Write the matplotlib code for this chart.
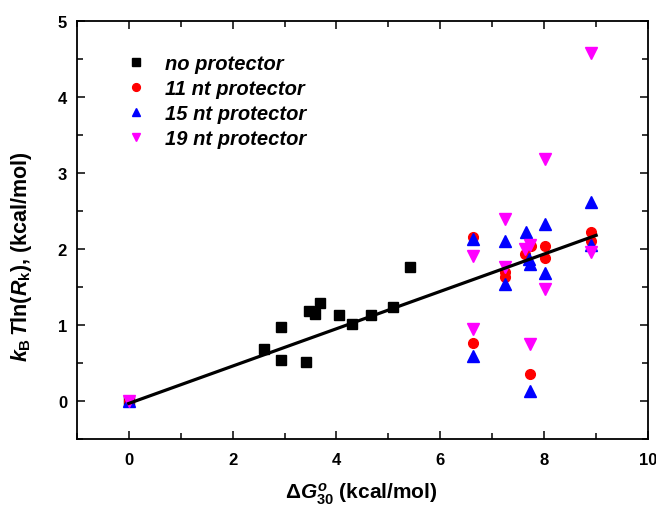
import matplotlib
matplotlib.use('Agg')
import matplotlib.pyplot as plt
from matplotlib.ticker import MultipleLocator

plt.rcParams['font.family'] = 'Liberation Sans'
plt.rcParams['font.weight'] = 'bold'
plt.rcParams['mathtext.fontset'] = 'custom'
plt.rcParams['mathtext.rm'] = 'Liberation Sans:bold'
plt.rcParams['mathtext.it'] = 'Liberation Sans:bold:italic'
plt.rcParams['mathtext.bf'] = 'Liberation Sans:bold'

# data
no_x = [0, 2.61, 2.94, 2.94, 3.42, 3.48, 3.58, 3.69, 4.05, 4.29, 4.66, 5.08, 5.41]
no_y = [0, 0.68, 0.97, 0.54, 0.51, 1.18, 1.14, 1.29, 1.13, 1.02, 1.13, 1.24, 1.76]

nt11_x = [0, 6.62, 6.62, 7.25, 7.25, 7.62, 7.75, 7.72, 8.01, 8.01, 8.9, 8.9]
nt11_y = [0, 2.16, 0.76, 1.70, 1.63, 1.93, 2.04, 0.36, 2.04, 1.88, 2.23, 2.10]

nt15_x = [0, 6.62, 6.62, 7.25, 7.25, 7.65, 7.70, 7.72, 7.72, 8.01, 8.01, 8.9, 8.9]
nt15_y = [0, 2.13, 0.59, 2.11, 1.54, 2.22, 1.87, 1.80, 0.14, 2.33, 1.68, 2.62, 2.05]

nt19_x = [0, 6.62, 6.62, 7.25, 7.25, 7.62, 7.72, 7.72, 8.01, 8.01, 8.9, 8.9]
nt19_y = [0, 1.91, 0.95, 2.39, 1.76, 2.00, 2.05, 0.75, 3.18, 1.48, 4.57, 1.96]

fit_x = [0, 9.0]
fit_y = [-0.03, 2.18]

fig = plt.figure(figsize=(6.56, 5.06), dpi=100)
ax = fig.add_axes([0.117, 0.130, 0.871, 0.827])

ax.plot(no_x, no_y, 's', color='black', markersize=6.5, linestyle='none', label='no protector')
ax.plot(nt11_x, nt11_y, 'o', color='red', markersize=7, linestyle='none', label='11 nt protector')
ax.plot(nt15_x, nt15_y, '^', color='blue', markersize=8, linestyle='none', label='15 nt protector')
ax.plot(nt19_x, nt19_y, 'v', color='magenta', markersize=8, linestyle='none', label='19 nt protector')
ax.plot(fit_x, fit_y, '-', color='black', linewidth=2.3, zorder=5)

ax.set_xlim(-1, 10)
ax.set_ylim(-0.5, 5)
ax.xaxis.set_major_locator(MultipleLocator(2))
ax.xaxis.set_minor_locator(MultipleLocator(1))
ax.yaxis.set_major_locator(MultipleLocator(1))
ax.yaxis.set_minor_locator(MultipleLocator(0.5))
ax.tick_params(which='both', direction='in', top=True, right=True, width=1.1, labelsize=12)
ax.tick_params(which='major', length=6)
ax.tick_params(which='minor', length=4)
ax.tick_params(axis='x', pad=9)
ax.tick_params(axis='y', pad=7)
for s in ax.spines.values():
    s.set_linewidth(1.3)

ax.set_xlabel(r'$\Delta G^{o}_{\mathit{30}}$ (kcal/mol)', fontsize=15, fontweight='bold')
ax.set_ylabel(r'$k_{\mathrm{B}}\,T\mathrm{ln}(R_{\mathrm{k}})$, (kcal/mol)', fontsize=15.5, fontweight='bold')
ax.xaxis.set_label_coords(0.497, -0.098)
ax.yaxis.set_label_coords(-0.075, 0.44)

leg = ax.legend(loc='upper left', bbox_to_anchor=(0.055, 0.963), frameon=False,
                prop={'size': 14.5, 'weight': 'bold', 'style': 'italic'},
                handletextpad=0.9, labelspacing=0.3, handlelength=1.0, markerscale=0.8)

fig.savefig('out.png', dpi=100)
